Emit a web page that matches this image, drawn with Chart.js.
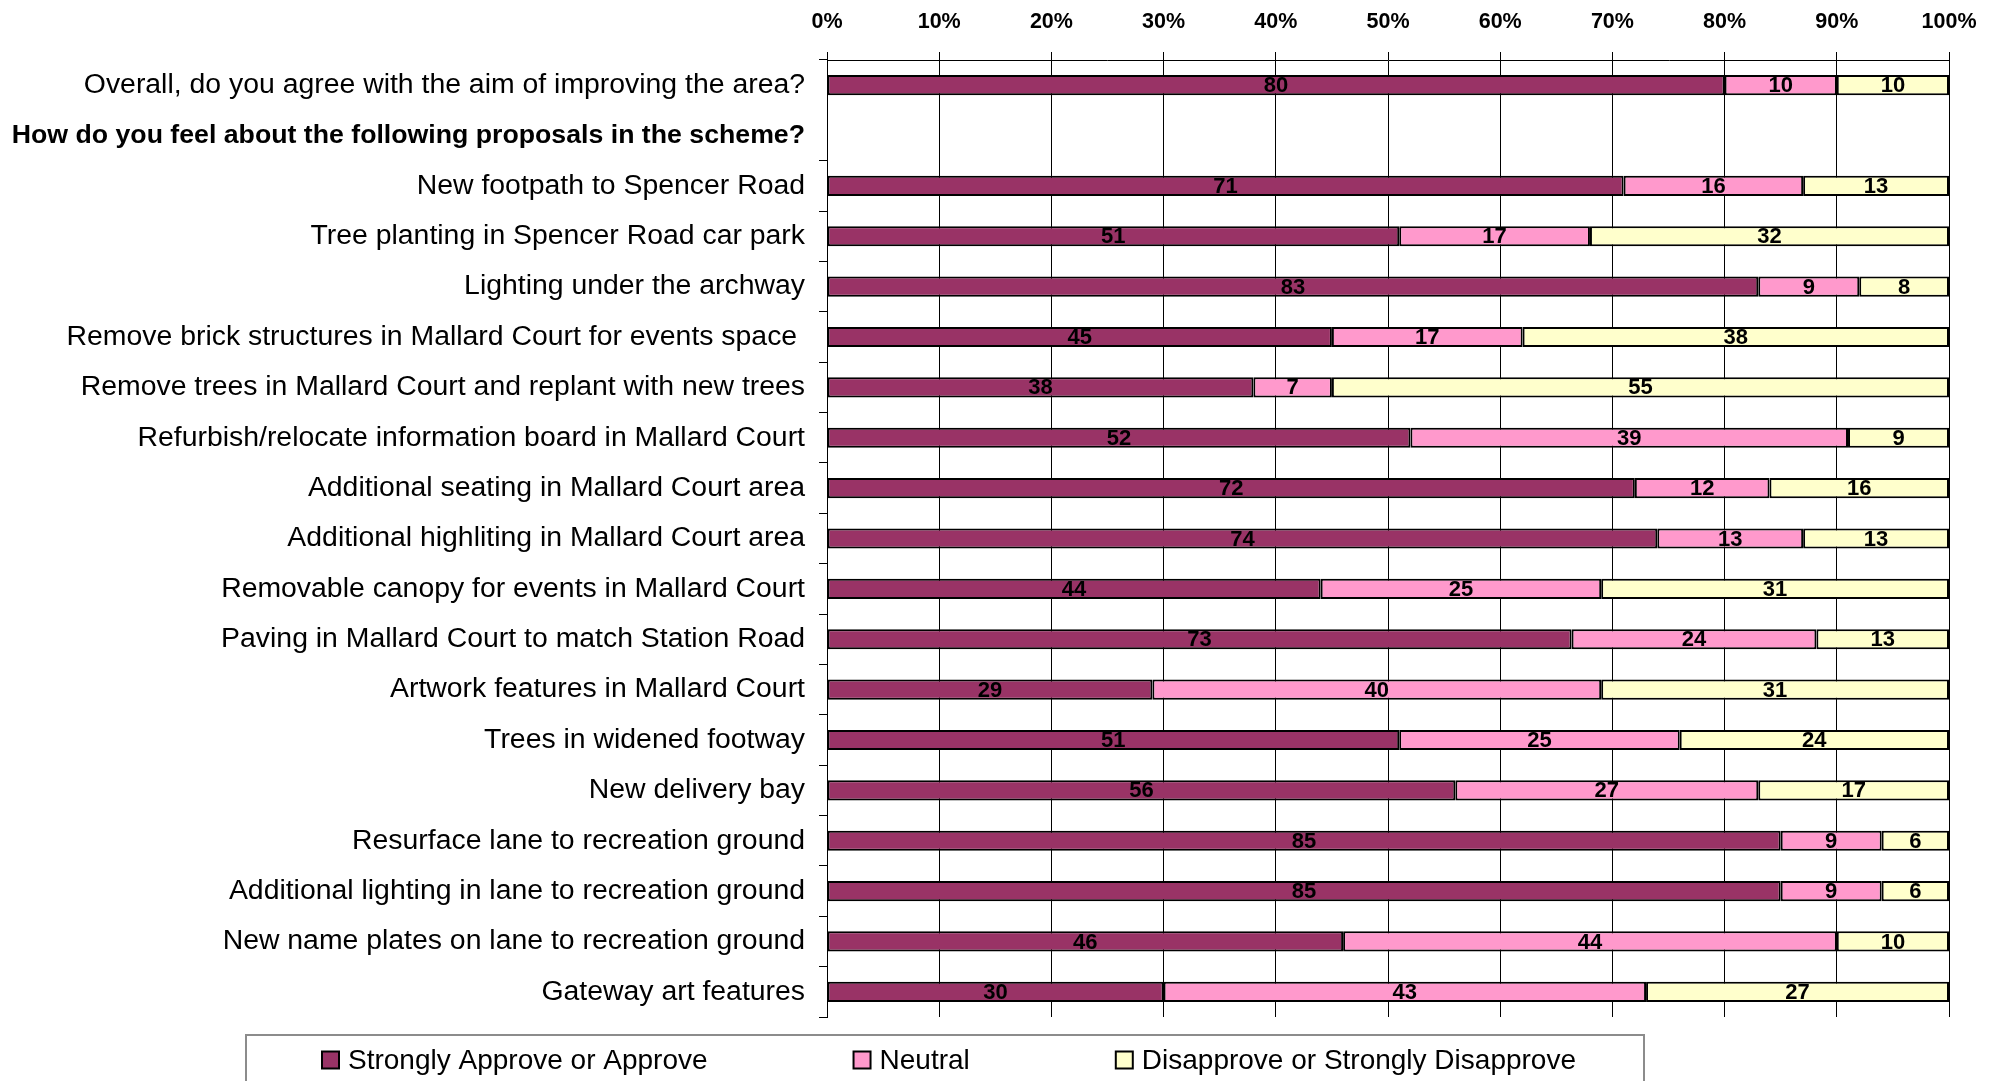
<!DOCTYPE html>
<html>
<head>
    <title>Scheme proposals</title>
    <script src="https://cdn.jsdelivr.net/npm/chart.js"></script>
    <style>
        html, body { margin: 0; padding: 0; background: #fff; }
    </style>
</head>
<body>
    <canvas id="myChart" width="2004" height="1081"></canvas>
    <script>
        // Categories (row 1 is the section heading, no bar)
        const categories = [
            'Overall, do you agree with the aim of improving the area?',
            'How do you feel about the following proposals in the scheme?',
            'New footpath to Spencer Road',
            'Tree planting in Spencer Road car park',
            'Lighting under the archway',
            'Remove brick structures in Mallard Court for events space ',
            'Remove trees in Mallard Court and replant with new trees',
            'Refurbish/relocate information board in Mallard Court',
            'Additional seating in Mallard Court area',
            'Additional highliting in Mallard Court area',
            'Removable canopy for events in Mallard Court',
            'Paving in Mallard Court to match Station Road',
            'Artwork features in Mallard Court',
            'Trees in widened footway',
            'New delivery bay',
            'Resurface lane to recreation ground',
            'Additional lighting in lane to recreation ground',
            'New name plates on lane to recreation ground',
            'Gateway art features'
        ];
        const seriesNames = ['Strongly Approve or Approve', 'Neutral', 'Disapprove or Strongly Disapprove'];
        const approve    = [80, null, 71, 51, 83, 45, 38, 52, 72, 74, 44, 73, 29, 51, 56, 85, 85, 46, 30];
        const neutral    = [10, null, 16, 17,  9, 17,  7, 39, 12, 13, 25, 24, 40, 25, 27,  9,  9, 44, 43];
        const disapprove = [10, null, 13, 32,  8, 38, 55,  9, 16, 13, 31, 13, 31, 24, 17,  6,  6, 10, 27];
        const tickLabels = ['0%', '10%', '20%', '30%', '40%', '50%', '60%', '70%', '80%', '90%', '100%'];

        const FONT = '"Liberation Sans", Arial, sans-serif';

        // 100% stacked: each row scaled by its own total
        const totals = approve.map((v, i) => v == null ? null : v + neutral[i] + disapprove[i]);
        const share = arr => arr.map((v, i) => v == null ? null : v / totals[i] * 100);

        // value labels in the middle of each segment
        const segmentLabels = {
            id: 'segmentLabels',
            afterDatasetsDraw(chart) {
                const ctx = chart.ctx;
                ctx.save();
                ctx.font = 'bold 22px ' + FONT;
                ctx.fillStyle = '#000';
                ctx.textAlign = 'center';
                ctx.textBaseline = 'middle';
                chart.data.datasets.forEach((ds, di) => {
                    chart.getDatasetMeta(di).data.forEach((bar, i) => {
                        const v = ds.rawValues[i];
                        if (v == null) return;
                        ctx.fillText(String(v), (bar.x + bar.base) / 2, bar.y + 1);
                    });
                });
                ctx.restore();
            }
        };

        // boxed legend under the plot
        const boxLegend = {
            id: 'boxLegend',
            afterDraw(chart) {
                const ctx = chart.ctx;
                const area = chart.chartArea;
                const ds = chart.data.datasets;
                const sq = 17, textGap = 9, itemGap = 146;
                ctx.save();
                ctx.font = '28px ' + FONT;
                const widths = ds.map(d => sq + textGap + ctx.measureText(d.label).width);
                const total = widths.reduce((a, b) => a + b, 0) + itemGap * (ds.length - 1);
                const start = chart.width / 2 - 53 - total / 2;
                const y = area.bottom + 43;

                ctx.strokeStyle = '#8c8c8c';
                ctx.lineWidth = 2;
                ctx.strokeRect(start - 76, area.bottom + 18, total + 76 + 68, chart.height);

                let x = start;
                ds.forEach((d, i) => {
                    ctx.fillStyle = d.backgroundColor;
                    ctx.fillRect(x, y - sq / 2, sq, sq);
                    ctx.strokeStyle = '#000';
                    ctx.lineWidth = 2;
                    ctx.strokeRect(x, y - sq / 2, sq, sq);
                    ctx.fillStyle = '#000';
                    ctx.textAlign = 'left';
                    ctx.textBaseline = 'middle';
                    ctx.fillText(d.label, x + sq + textGap, y + 1);
                    x += widths[i] + itemGap;
                });
                ctx.restore();
            }
        };

        const makeSet = (label, values, color) => ({
            label,
            data: share(values),
            rawValues: values,
            backgroundColor: color,
            borderColor: '#000',
            borderWidth: 2,
            borderSkipped: false,
            categoryPercentage: 0.5,
            barPercentage: 0.8
        });

        const ctx = document.getElementById('myChart').getContext('2d');
        new Chart(ctx, {
            type: 'bar',
            data: {
                labels: categories,
                datasets: [
                    makeSet(seriesNames[0], approve, '#993366'),
                    makeSet(seriesNames[1], neutral, '#FF99CC'),
                    makeSet(seriesNames[2], disapprove, '#FFFFCC')
                ]
            },
            options: {
                indexAxis: 'y',
                responsive: false,
                animation: false,
                layout: { padding: { left: 0, right: 55, top: 0, bottom: 64 } },
                plugins: {
                    legend: { display: false },
                    tooltip: { enabled: false }
                },
                scales: {
                    x: {
                        position: 'top',
                        stacked: true,
                        min: 0,
                        max: 100,
                        afterFit: scale => { scale.height = 60; },
                        border: { display: true, color: '#000', width: 1 },
                        grid: { color: '#000', lineWidth: 1, tickLength: 8 },
                        ticks: {
                            stepSize: 10,
                            padding: 17,
                            color: '#000',
                            font: { family: FONT, size: 21.5, weight: 'bold' },
                            callback: (v, i) => tickLabels[i]
                        }
                    },
                    y: {
                        stacked: true,
                        afterFit: scale => { scale.width = 827; },
                        border: { display: true, color: '#000', width: 1 },
                        grid: {
                            offset: true,
                            drawOnChartArea: false,
                            tickLength: 8,
                            color: c => c.index === 1 ? 'rgba(0,0,0,0)' : '#000'
                        },
                        ticks: {
                            padding: 14,
                            color: '#000',
                            font: c => c.index === 1
                                ? { family: FONT, size: 26.7, weight: 'bold' }
                                : { family: FONT, size: 28.4 }
                        }
                    }
                }
            },
            plugins: [segmentLabels, boxLegend]
        });
    </script>
</body>
</html>
